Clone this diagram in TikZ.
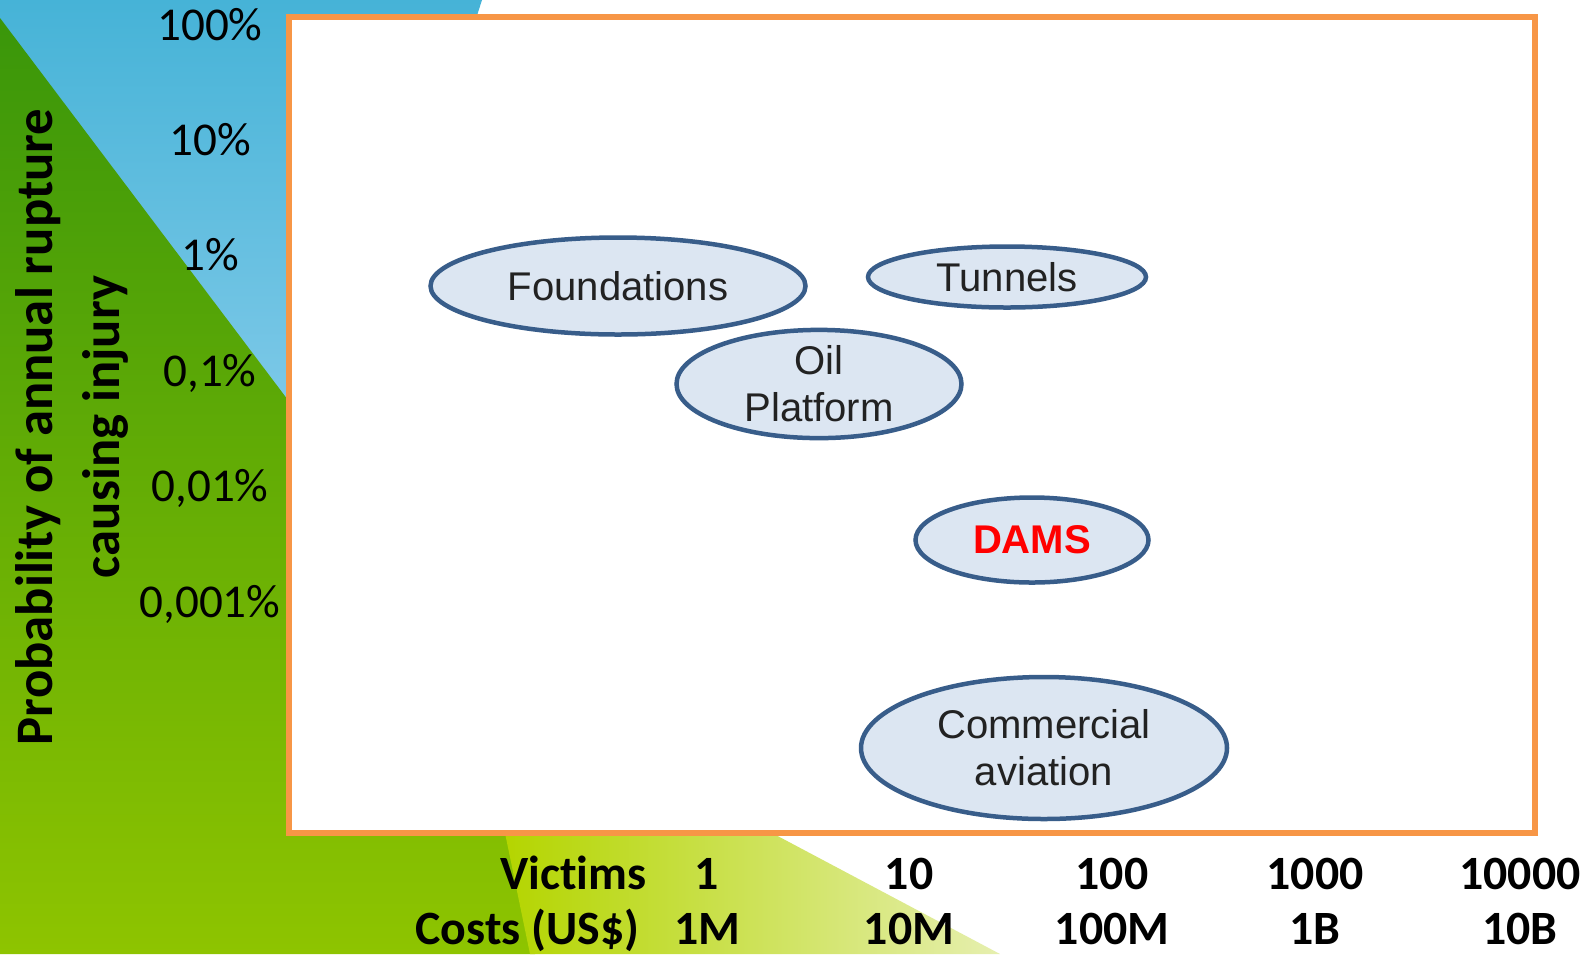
\documentclass[tikz,border=0pt]{standalone}
\usepackage{fontspec}
\setmainfont{Liberation Sans}
\newfontfamily\bubblefont{Liberation Sans}
\newfontfamily\tickfont{Carlito}
\newfontfamily\unitfont[Ligatures=NoCommon]{Carlito}
\newfontfamily\probfont[Ligatures=NoCommon]{Carlito}
\usetikzlibrary{shapes.geometric}

\definecolor{bubblefill}{RGB}{220,230,242}
\definecolor{bubbleedge}{RGB}{56,93,138}
\definecolor{bubbletext}{RGB}{34,34,34}
\definecolor{frameorange}{RGB}{247,150,70}
\definecolor{skytop}{RGB}{70,179,215}
\definecolor{skybottom}{RGB}{126,201,232}
\definecolor{grasstop}{RGB}{58,150,10}
\definecolor{grassbottom}{RGB}{142,196,0}
\definecolor{limeleft}{RGB}{180,213,0}
\definecolor{limeright}{RGB}{230,239,175}

\begin{document}
\begin{tikzpicture}[x=0.1mm,y=-0.1mm,
  bubble/.style={ellipse,draw=bubbleedge,fill=bubblefill,line width=0.45mm,
    inner sep=0pt,align=center,text=bubbletext,
    font=\bubblefont\fontsize{11.4}{13.4}\selectfont},
  prob/.style={anchor=base,inner sep=0pt,font=\tickfont\fontsize{13.4}{16}\selectfont},
  scal/.style={anchor=base,inner sep=0pt,font=\unitfont\bfseries\fontsize{13.6}{16}\selectfont}]
\useasboundingbox (0,0) rectangle (1589,954);

% background
\fill[white] (0,0) rectangle (1589,954);
\shade[top color=skytop,bottom color=skybottom]
  (0,0) -- (482,0) -- (474,25) -- (300,25) -- (300,420) -- (0,420) -- cycle;
\shade[top color=grasstop,bottom color=grassbottom]
  (0,18) -- (300,416) -- (510,833) -- (535,954) -- (0,954) -- cycle;
\shade[left color=limeleft,right color=limeright]
  (505,833) -- (772,833) -- (1000,954) -- (530,954) -- cycle;

% chart area
\draw[frameorange,line width=0.55mm,fill=white] (289,17) rectangle (1535,833);

\node[bubble,minimum width=37.5mm,minimum height=9.7mm] (found) at (618,286) {Foundations};
\node[bubble,minimum width=27.8mm,minimum height=6.1mm] (tunnels) at (1007,277) {Tunnels};
\node[bubble,minimum width=28.5mm,minimum height=10mm] (oil) at (819,384) {Oil\\Platform};
\node[bubble,minimum width=23.3mm,minimum height=8.5mm,text=red,
  font=\bubblefont\bfseries\fontsize{11.4}{13.4}\selectfont] (dams) at (1032,540) {DAMS};
\node[bubble,minimum width=36.6mm,minimum height=14.2mm] (aviation) at (1044,748) {Commercial\\aviation};

% axes
\node[rotate=90,align=center,font=\probfont\bfseries\fontsize{15}{19.2}\selectfont]
  (ytitle) at (72,427) {Probability of annual rupture\\causing injury};
\foreach \lab [count=\i] in {100\%,10\%,1\%,{0,1\%},{0,01\%},{0,001\%}}
  \node[prob] (p\i) at (210,{40+115.4*(\i-1)}) {\lab};

\node[scal,anchor=base east] (victims) at (647,889) {Victims};
\node[scal,anchor=base east] (costs) at (640,944) {Costs (US\$)};
\foreach \v/\c/\x [count=\i] in {1/1M/707,10/10M/909,100/100M/1112,1000/1B/1315,10000/10B/1520}{
  \node[scal] (v\i) at (\x,889) {\v};
  \node[scal] (c\i) at (\x,944) {\c};
}
\end{tikzpicture}
\end{document}
